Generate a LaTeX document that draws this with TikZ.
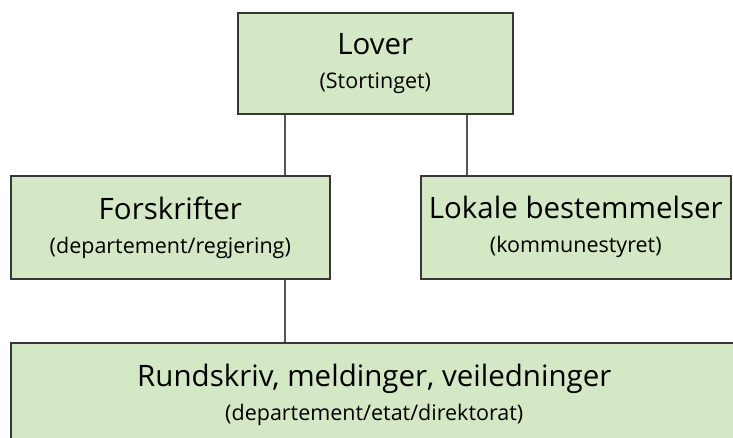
\documentclass[tikz,border=0pt]{standalone}
\usepackage{fontspec}
\setmainfont{Open Sans}
\definecolor{boxfill}{RGB}{213,232,197}
\definecolor{boxline}{RGB}{55,55,55}
\definecolor{conline}{RGB}{85,85,85}
\newcommand{\titlef}{\fontsize{29.5}{34}\selectfont}
\newcommand{\subf}{\fontsize{21.5}{34}\selectfont}
\begin{document}
\begin{tikzpicture}[x=1pt,y=-1pt,
  boxnode/.style={draw=boxline,line width=1.6pt,fill=boxfill,align=center,inner sep=0pt,anchor=north west,font=\subf},
  conn/.style={draw=conline,line width=1.8pt}]
\clip (0,0) rectangle (733,437);
\fill[white] (0,0) rectangle (733,437);
\node[boxnode,minimum width=275pt,minimum height=101pt] (lover) at (237,12)
  {{\titlef Lover}\\(Stortinget)};
\node[boxnode,minimum width=319pt,minimum height=103pt] (forsk) at (10,175)
  {{\titlef Forskrifter}\\(departement/regjering)};
\node[boxnode,minimum width=310pt,minimum height=103pt] (lokale) at (420,175)
  {{\titlef Lokale bestemmelser}\\(kommunestyret)};
\node[boxnode,minimum width=727pt,minimum height=104pt] (rund) at (10,342)
  {{\titlef Rundskriv, meldinger, veiledninger}\\(departement/etat/direktorat)};
\draw[conn] (lover.south -| forsk.north east) ++(-46,0) coordinate (a1);
\draw[conn] (a1) -- (a1 |- forsk.north);
\draw[conn] (a1 |- forsk.south) -- (a1 |- rund.north);
\draw[conn] (lover.south -| lokale.north west) ++(47,0) coordinate (a2);
\draw[conn] (a2) -- (a2 |- lokale.north);
\end{tikzpicture}
\end{document}
